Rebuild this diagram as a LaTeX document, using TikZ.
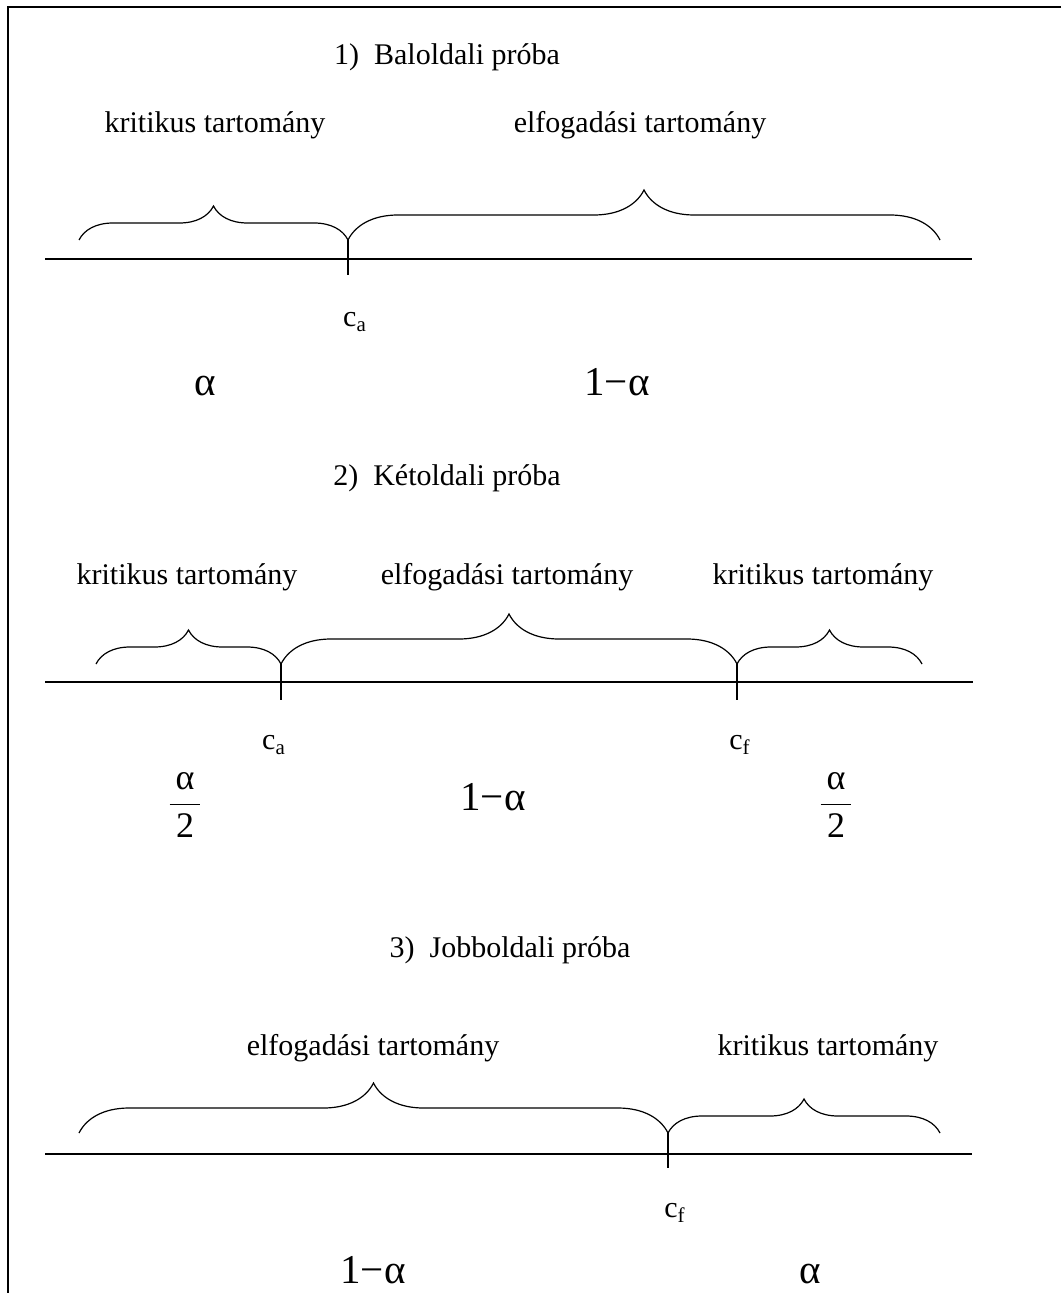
\documentclass[tikz,border=0pt]{standalone}
\usepackage{amsmath}
\usepackage{fontspec}
\setmainfont{Liberation Serif}
\usetikzlibrary{decorations.pathreplacing}

\begin{document}
\begin{tikzpicture}[x=0.5pt,y=-0.5pt,line width=0.6pt]
\tikzset{
 lab/.style={inner sep=0,font=\fontsize{15}{18}\selectfont},
 gr/.style={inner sep=0,anchor=base,font=\fontsize{20.5}{24}\selectfont},
 fr/.style={inner sep=0,font=\fontsize{18}{21}\selectfont},
 br/.style={decorate,decoration={brace,amplitude=#1}},
 br/.default=17pt,
 frame/.style={line width=1.1pt}
}
\useasboundingbox (0,0) rectangle (1061,1293);
\coordinate (fa) at (1061,7); \coordinate (fb) at (8,7); \coordinate (fc) at (8,1293);
\draw[frame] (fa) -- (fb) -- (fc);

% 1) left-sided
\node[lab] (t1) at (447,57) {1)\ \ Baloldali próba};
\node[lab] (k1) at (215,125) {kritikus tartomány};
\node[lab] (e1) at (640,125) {elfogadási tartomány};
\coordinate (l1a) at (45,259); \coordinate (l1b) at (972,259);
\coordinate (s1) at (79,240); \coordinate (c1) at (348,240); \coordinate (z1) at (940,240);
\coordinate (c1d) at (348,275);
\draw (l1a) -- (l1b); \draw (c1) -- (c1d);
\draw[br] (s1) -- (c1); \draw[br=25pt] (c1) -- (z1);
\node[lab] (ca1) at (355,322) {c\textsubscript{a}};
\node[gr] (a1) at (205,396) {α};
\node[gr] (m1) at (617,396) {1−α};

% 2) two-sided
\node[lab] (t2) at (447,478) {2)\ \ Kétoldali próba};
\node[lab] (k2) at (187,577) {kritikus tartomány};
\node[lab] (e2) at (507,577) {elfogadási tartomány};
\node[lab] (k3) at (823,577) {kritikus tartomány};
\coordinate (l2a) at (45,682); \coordinate (l2b) at (973,682);
\coordinate (s2) at (96,664); \coordinate (c2) at (281,664);
\coordinate (c3) at (737,664); \coordinate (z2) at (922,664);
\coordinate (c2d) at (281,700); \coordinate (c3d) at (737,700);
\draw (l2a) -- (l2b); \draw (c2) -- (c2d); \draw (c3) -- (c3d);
\draw[br] (s2) -- (c2); \draw[br=25pt] (c2) -- (c3); \draw[br] (c3) -- (z2);
\node[lab] (ca2) at (274,745) {c\textsubscript{a}};
\node[lab] (cf2) at (740,745) {c\textsubscript{f}};
\node[fr] (h1) at (185,805) {$\dfrac{\mbox{\,α\,}}{\mbox{2}}$};
\node[gr] (m2) at (493,810) {1−α};
\node[fr] (h2) at (836,805) {$\dfrac{\mbox{\,α\,}}{\mbox{2}}$};

% 3) right-sided
\node[lab] (t3) at (510,950) {3)\ \ Jobboldali próba};
\node[lab] (e3) at (373,1048) {elfogadási tartomány};
\node[lab] (k4) at (828,1048) {kritikus tartomány};
\coordinate (l3a) at (45,1154); \coordinate (l3b) at (972,1154);
\coordinate (s3) at (79,1133); \coordinate (c4) at (668,1133); \coordinate (z3) at (940,1133);
\coordinate (c4d) at (668,1168);
\draw (l3a) -- (l3b); \draw (c4) -- (c4d);
\draw[br=25pt] (s3) -- (c4); \draw[br] (c4) -- (z3);
\node[lab] (cf3) at (675,1213) {c\textsubscript{f}};
\node[gr] (m3) at (373,1283) {1−α};
\node[gr] (a3) at (810,1283) {α};
\end{tikzpicture}
\end{document}
